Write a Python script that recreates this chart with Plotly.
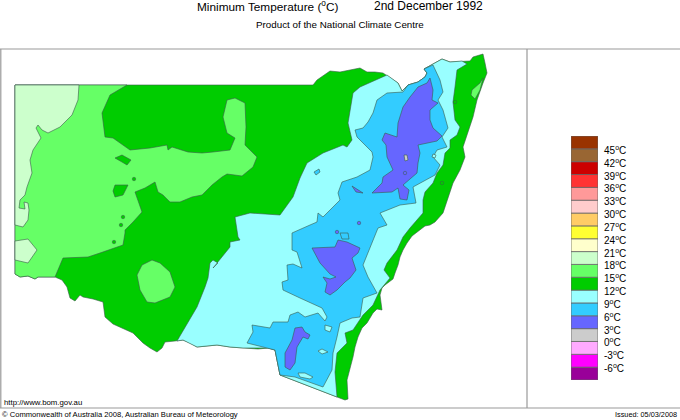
import plotly.graph_objects as go

# legend bands, bottom to top
band_low = [-9, -6, -3, 0, 3, 6, 9, 12, 15, 18, 21, 24, 27, 30, 33, 36, 39, 42, 45]
band_colors = ['#990099', '#ff00ff', '#ffaaff', '#cccccc', '#6666ff', '#33ccff', '#99ffff', '#00cc00', '#66ff66',
               '#ccffcc', '#ffffcc', '#ffff33', '#ffcc66', '#ffcccc', '#ff9999', '#ff3333', '#cc0000', '#996633', '#993300']
band_ticks = [-6, -3, 0, 3, 6, 9, 12, 15, 18, 21, 24, 27, 30, 33, 36, 39, 42, 45]

state_12 = [(15, 85), (313, 85), (317, 80), (324, 75), (330, 71), (340, 72), (350, 70), (360, 68), (367, 72), (375, 72),
            (383, 73), (390, 78), (398, 83), (402, 91), (408, 85), (418, 82), (425, 77), (427, 73), (424, 69), (433, 64),
            (442, 59), (450, 62), (462, 61), (470, 61), (473, 57), (483, 54), (485, 63), (487, 73), (483, 83), (480, 91),
            (477, 100), (473, 117), (468, 133), (463, 147), (465, 157), (460, 170), (453, 183), (447, 200), (443, 213),
            (435, 222), (430, 225), (425, 226), (417, 232), (412, 236), (407, 243), (403, 250), (400, 257), (398, 265),
            (395, 273), (393, 279), (385, 285), (382, 288), (380, 295), (381, 303), (382, 310), (377, 309), (373, 313),
            (367, 323), (362, 328), (358, 337), (355, 347), (353, 357), (350, 368), (347, 380), (348, 399), (345, 400),
            (337, 397), (280, 375), (275, 350), (268, 348), (258, 349), (243, 348), (236, 347), (230, 347), (217, 345),
            (207, 346), (197, 347), (190, 343), (183, 340), (175, 341), (165, 342), (162, 348), (157, 352), (150, 348),
            (143, 343), (133, 333), (124, 329), (113, 324), (105, 317), (103, 302), (93, 299), (83, 297), (80, 295),
            (75, 301), (70, 298), (67, 287), (62, 280), (55, 277), (38, 277), (35, 279), (28, 276), (20, 277), (15, 274)]

west_15 = [(127, 85), (110, 95), (102, 113), (105, 137), (113, 138), (130, 150), (150, 148), (167, 145), (168, 150),
           (172, 147), (188, 152), (202, 153), (213, 152), (230, 150), (235, 138), (227, 133), (223, 117), (227, 100),
           (235, 98), (245, 103), (246, 127), (245, 145), (257, 157), (253, 167), (242, 176), (227, 174), (222, 177),
           (212, 185), (202, 195), (192, 197), (180, 202), (170, 202), (163, 195), (158, 192), (155, 182), (145, 188),
           (135, 192), (142, 212), (133, 222), (125, 230), (125, 233), (123, 245), (100, 253), (88, 257), (63, 258),
           (55, 277), (38, 277), (35, 279), (28, 276), (20, 277), (15, 274), (15, 85)]
south_15 = [(152, 260), (160, 263), (170, 272), (175, 287), (170, 297), (155, 303), (147, 302), (140, 290), (137, 275), (142, 265)]
coast_15 = [(472, 90), (480, 83), (483, 78), (480, 90), (475, 99), (471, 95)]
pocket_12 = [(115, 158), (122, 155), (131, 160), (127, 165), (122, 162)]
blob_12 = [(115, 185), (128, 185), (123, 195), (115, 197), (113, 191)]

corner_18 = [(15, 85), (79, 85), (78, 100), (72, 115), (60, 127), (48, 133), (42, 130), (38, 125), (36, 128), (41, 138),
             (33, 150), (30, 160), (32, 173), (27, 187), (25, 195), (20, 200), (19, 208), (25, 209), (24, 202), (28, 203),
             (29, 210), (28, 220), (23, 227), (15, 225)]
edge_18 = [(15, 241), (28, 239), (37, 250), (28, 263), (15, 260)]

main_9 = [(177, 341), (185, 327), (197, 307), (205, 287), (208, 278), (210, 263), (213, 260), (218, 263), (213, 268),
          (230, 247), (230, 242), (240, 240), (238, 237), (235, 217), (250, 213), (280, 215), (293, 197), (300, 178),
          (307, 163), (323, 153), (343, 145), (347, 147), (352, 140), (348, 123), (353, 93), (360, 87), (380, 78),
          (387, 75), (398, 83), (402, 91), (408, 85), (418, 82), (425, 77), (427, 73), (424, 69), (433, 64), (442, 59),
          (450, 62), (462, 61), (467, 64), (457, 70), (455, 87), (453, 102), (455, 120), (460, 127), (457, 135),
          (450, 140), (450, 148), (445, 153), (443, 165), (437, 173), (433, 183), (425, 192), (423, 200), (423, 213),
          (410, 228), (403, 237), (397, 250), (387, 263), (384, 270), (390, 278), (380, 290), (373, 305), (363, 315),
          (353, 330), (345, 333), (347, 343), (337, 353), (335, 372), (337, 397), (280, 375), (275, 350), (268, 348),
          (243, 348), (230, 347), (217, 345), (197, 347), (183, 340)]

main_6 = [(424, 69), (433, 65), (440, 80), (443, 92), (438, 100), (443, 110), (448, 128), (442, 137), (447, 147),
          (437, 150), (433, 157), (440, 165), (435, 175), (423, 182), (413, 187), (416, 203), (400, 205), (380, 213),
          (387, 225), (378, 228), (363, 265), (368, 277), (377, 293), (363, 298), (360, 317), (352, 318), (340, 323),
          (337, 337), (333, 353), (332, 370), (323, 387), (295, 377), (280, 375), (275, 350), (247, 343), (253, 332),
          (252, 325), (270, 328), (273, 322), (288, 322), (290, 315), (298, 312), (305, 317), (318, 313), (325, 321),
          (327, 317), (322, 308), (300, 298), (283, 290), (282, 282), (288, 280), (287, 265), (293, 264), (302, 268),
          (297, 252), (292, 250), (292, 233), (310, 225), (317, 222), (318, 213), (323, 217), (340, 200), (338, 193),
          (342, 182), (357, 177), (370, 170), (373, 157), (372, 152), (357, 137), (355, 130), (363, 128), (368, 122),
          (373, 113), (377, 100), (387, 93), (403, 92), (408, 85), (418, 82), (425, 77), (427, 73)]
gaps_9 = [
    [(298, 373), (305, 373), (313, 377), (310, 379), (300, 377)],
    [(318, 351), (322, 349), (328, 352), (322, 354)],
    [(325, 325), (332, 327), (330, 332), (325, 330)],
    [(433, 154), (436, 155), (435, 158), (432, 157)],
]
spot_6 = [(314, 172), (319, 169), (320, 172), (316, 175)]
blob_6 = [(340, 233), (348, 233), (349, 239), (342, 239)]

north_3 = [(430, 78), (433, 90), (432, 100), (438, 103), (430, 110), (430, 120), (433, 128), (442, 136), (437, 141),
           (418, 145), (420, 153), (418, 163), (417, 173), (403, 185), (409, 190), (407, 200), (400, 199), (398, 188),
           (392, 192), (372, 193), (382, 183), (383, 177), (393, 170), (387, 157), (386, 145), (382, 140), (385, 133),
           (397, 137), (398, 123), (403, 107), (410, 97), (418, 87), (427, 83)]
centre_3 = [(312, 248), (327, 247), (335, 247), (338, 240), (347, 242), (360, 248), (358, 253), (352, 258), (356, 270),
            (350, 278), (345, 282), (337, 290), (330, 295), (325, 292), (327, 283), (323, 277), (330, 279), (336, 277),
            (330, 274), (320, 263), (317, 257)]
south_3 = [(295, 328), (302, 327), (305, 332), (310, 335), (308, 339), (303, 337), (297, 347), (295, 363), (290, 370),
           (285, 367), (285, 353), (292, 340)]
small_3 = [(352, 186), (358, 190), (363, 193), (356, 192)]
peak_0 = [(404, 155), (407, 155), (408, 160), (405, 161)]

# small isolated cells: x, y, colour
spot_x = [134, 123, 121, 114, 359, 405, 337, 455, 442]
spot_y = [179, 217, 225, 242, 223, 173, 232, 102, 183]
spot_colors = ['#00cc00', '#00cc00', '#00cc00', '#00cc00', '#6666ff', '#6666ff', '#6666ff', '#00cc00', '#00cc00']

fig = go.Figure()


def add_region(points, color):
    fig.add_trace(go.Scatter(
        x=[p[0] for p in points] + [points[0][0]],
        y=[p[1] for p in points] + [points[0][1]],
        mode='lines',
        fill='toself',
        fillcolor=color,
        line=dict(color='#3a5a4a', width=0.6),
        showlegend=False,
        hoverinfo='skip',
    ))


add_region(state_12, '#00cc00')
add_region(west_15, '#66ff66')
add_region(south_15, '#66ff66')
add_region(coast_15, '#66ff66')
add_region(pocket_12, '#00cc00')
add_region(blob_12, '#00cc00')
add_region(corner_18, '#ccffcc')
add_region(edge_18, '#ccffcc')
add_region(main_9, '#99ffff')
add_region(spot_6, '#33ccff')
add_region(main_6, '#33ccff')
for gap in gaps_9:
    add_region(gap, '#99ffff')
add_region(blob_6, '#33ccff')
add_region(north_3, '#6666ff')
add_region(centre_3, '#6666ff')
add_region(south_3, '#6666ff')
add_region(small_3, '#6666ff')
add_region(peak_0, '#cccccc')

fig.add_trace(go.Scatter(
    x=spot_x,
    y=spot_y,
    mode='markers',
    marker=dict(color=spot_colors, size=3.5, line=dict(color='#3a5a4a', width=0.5)),
    showlegend=False,
    hoverinfo='skip',
))

# colour scale
fig.add_trace(go.Bar(
    x=['scale'] * len(band_low),
    y=[3] * len(band_low),
    base=band_low,
    width=1,
    marker=dict(color=band_colors, line=dict(color='#666666', width=0.8)),
    xaxis='x2',
    yaxis='y2',
    showlegend=False,
    hoverinfo='skip',
))

# frame
frame = dict(color='#999999', width=1.2)
fig.add_shape(type='line', x0=0, x1=680, y0=49, y1=49, line=frame)
fig.add_shape(type='line', x0=0, x1=680, y0=408, y1=408, line=frame)
fig.add_shape(type='line', x0=0.8, x1=0.8, y0=49, y1=408, line=frame)
fig.add_shape(type='line', x0=527, x1=527, y0=49, y1=408, line=frame)


def add_text(x, y, text, size, anchor='left'):
    fig.add_annotation(x=x, y=y, text=text, showarrow=False, xanchor=anchor, yanchor='middle',
                       font=dict(size=size, color='black'))


add_text(195, 6, 'Minimum Temperature (<sup>o</sup>C)', 11.8)
add_text(372, 6, '2nd December 1992', 12)
add_text(254, 24, 'Product of the National Climate Centre', 9.8)
add_text(2, 402, 'http://www.bom.gov.au', 7.8)
add_text(0, 414, '© Commonwealth of Australia 2008, Australian Bureau of Meteorology', 7.6)
add_text(679, 414, 'Issued: 05/03/2008', 7.3, anchor='right')

# scale labels sit just under the band edges
for t in band_ticks:
    fig.add_annotation(xref='paper', yref='y2', x=602 / 680, y=t, yshift=-1, text=f'{t}<sup>o</sup>C',
                       showarrow=False, xanchor='left', yanchor='middle', font=dict(size=10, color='black'))

fig.update_layout(
    width=680,
    height=420,
    margin=dict(l=0, r=0, t=0, b=0),
    paper_bgcolor='white',
    plot_bgcolor='white',
    font=dict(family='Liberation Sans'),
    barmode='overlay',
    xaxis=dict(range=[0, 680], visible=False, domain=[0, 1]),
    yaxis=dict(range=[420, 0], visible=False, domain=[0, 1]),
    xaxis2=dict(domain=[571 / 680, 598 / 680], anchor='y2', visible=False),
    yaxis2=dict(domain=[40 / 420, 284 / 420], range=[-9, 48], anchor='x2', visible=False),
)

# page margin would push the figure out of the window
fig.write_html("out.html", config={'displayModeBar': False},
               post_script="document.body.style.margin = '0'; document.body.style.overflow = 'hidden';")
